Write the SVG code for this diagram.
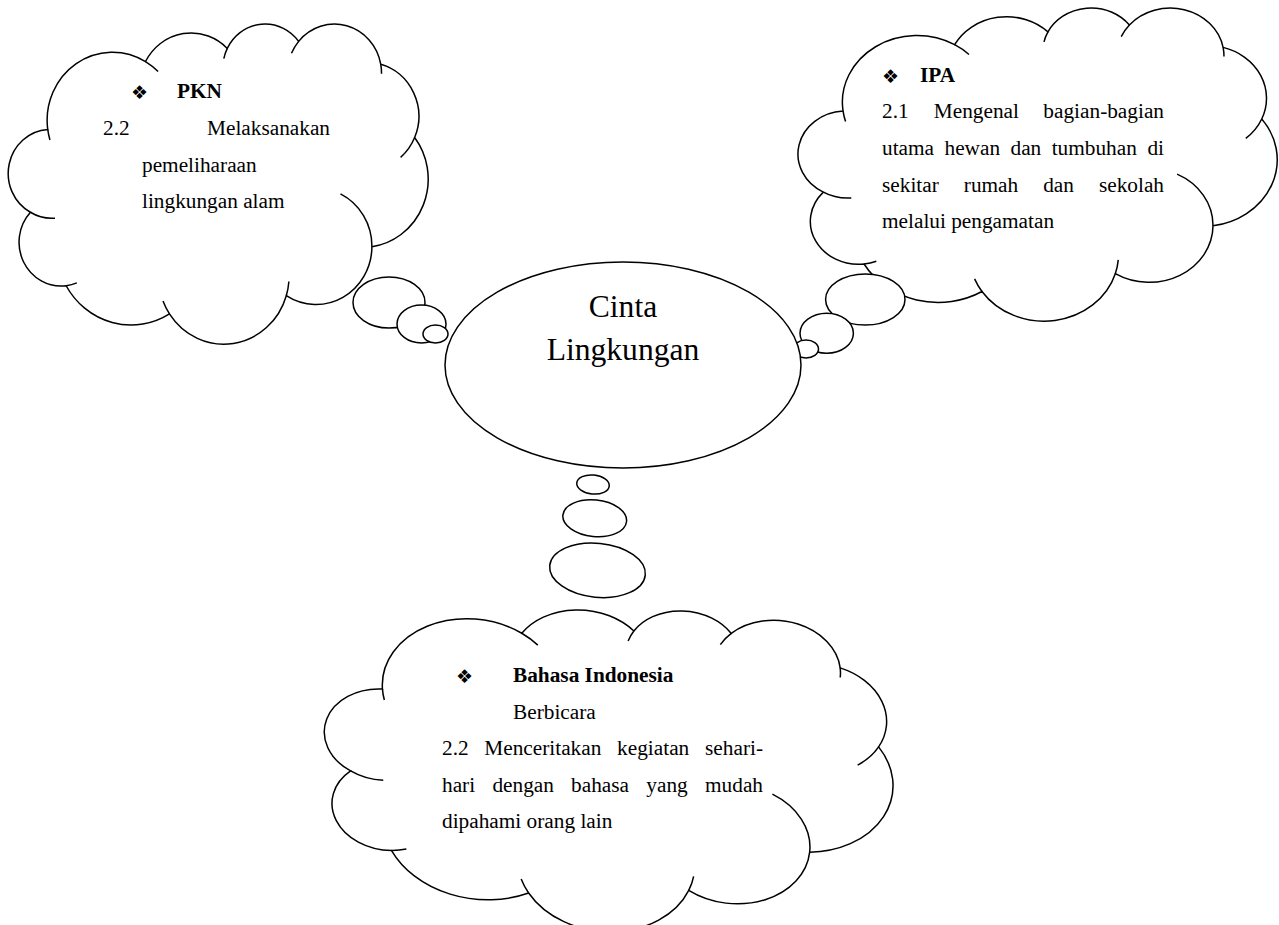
<svg xmlns="http://www.w3.org/2000/svg" xmlns:xlink="http://www.w3.org/1999/xlink" width="1279" height="925" viewBox="0 0 1279 925">
<style>
.cl{fill:#fff;stroke:#000;stroke-width:1.5}
.in{fill:none;stroke:#000;stroke-width:1.5}
.bub{fill:#fff;stroke:#000;stroke-width:1.5}
.t{font-family:"Liberation Serif","Times New Roman",serif;font-size:21.3px;fill:#000}
.b{font-weight:bold}
.dia{font-family:"DejaVu Sans",sans-serif;font-size:19px;fill:#000}
.big{font-family:"Liberation Serif","Times New Roman",serif;font-size:31.6px;fill:#000}
</style>
<defs>
<path id="cloud" class="cl" vector-effect="non-scaling-stroke" d="M3900,14370 A6753,9190 0 0 1 14004.8,5202 A5333,7267 0 0 1 22456.2,3430.2 A4365,5945 0 0 1 29833.2,2478.7 A4857,6595 0 0 1 38318.5,5573.7 A5333,7273 0 0 1 41819.1,15457.5 A6775,9220 0 0 1 37404.7,30200 A5785,7867 0 0 1 28556.2,36810.2 A6752,9215 0 0 1 16481.1,39263.3 A7720,10543 0 0 1 5804.4,35470.9 A4360,5918 0 0 1 2113.8,25548.3 A4345,5945 0 0 1 3900,14370 Z"/>
<path id="inner" class="in" vector-effect="non-scaling-stroke" d="M4648.1,26345.8 A4345,5945 0 0 1 2113.8,25548.3 M6913,35089.4 A4360,5918 0 0 1 5804.4,35470.9 M16481.1,39263.3 A6752,9215 0 0 1 15812.8,37522.5 M28822.7,34901.9 A6752,9215 0 0 1 28556.2,36810.2 M34153.3,23064.4 A5785,7867 0 0 1 37404.7,30200 M41819.1,15457.5 A5333,7273 0 0 1 40370.1,18134.5 M38318.5,5573.7 A4857,6595 0 0 1 38394.9,6837.7 M29091.3,4090.9 A4857,6595 0 0 1 29833.2,2478.7 M22097.2,4819.2 A4365,5945 0 0 1 22456.2,3430.2 M14004.8,5202 A6753,9190 0 0 1 15305.2,6551 M4126.9,15789 A6753,9190 0 0 1 3900,14370"/>
</defs>

<g id="node-pkn">
<g transform="translate(10,23) scale(0.0096759,0.0074074)">
<use href="#cloud" xlink:href="#cloud"/>
<use href="#inner" xlink:href="#inner"/>
</g>
<text class="dia" x="131" y="99">❖</text>
<text class="t b" x="177" y="98.3">PKN</text>
<text class="t" x="103" y="135">2.2</text>
<text class="t" x="330" y="135" text-anchor="end">Melaksanakan</text>
<text class="t" x="142" y="171.7">pemeliharaan</text>
<text class="t" x="142" y="208.3">lingkungan alam</text>
</g>

<g id="node-ipa">
<g transform="translate(800,7) scale(0.0110417,0.0072454)">
<use href="#cloud" xlink:href="#cloud"/>
<use href="#inner" xlink:href="#inner"/>
</g>
<text class="dia" x="882" y="82.5">❖</text>
<text class="t b" x="920" y="81.7">IPA</text>
<text class="t" y="118.3"><tspan x="882">2.1</tspan><tspan x="933.8">Mengenal</tspan><tspan x="1164" text-anchor="end">bagian-bagian</tspan></text>
<text class="t" y="155"><tspan x="882">utama</tspan><tspan x="944.5">hewan</tspan><tspan x="1010.5">dan</tspan><tspan x="1051.7">tumbuhan</tspan><tspan x="1164" text-anchor="end">di</tspan></text>
<text class="t" y="191.7"><tspan x="882">sekitar</tspan><tspan x="963.8">rumah</tspan><tspan x="1043.2">dan</tspan><tspan x="1164" text-anchor="end">sekolah</tspan></text>
<text class="t" x="882" y="228.3">melalui pengamatan</text>
</g>

<g id="node-bahasa">
<g transform="translate(609,766.7) rotate(5.7) translate(-284.5,-163.5) scale(0.0131713,0.0075694)">
<use href="#cloud" xlink:href="#cloud"/>
<use href="#inner" xlink:href="#inner"/>
</g>
<text class="dia" x="456" y="683">❖</text>
<text class="t b" x="513" y="682">Bahasa Indonesia</text>
<text class="t" x="513" y="718.5">Berbicara</text>
<text class="t" y="755"><tspan x="442">2.2</tspan><tspan x="484.3">Menceritakan</tspan><tspan x="617.1">kegiatan</tspan><tspan x="763" text-anchor="end">sehari-</tspan></text>
<text class="t" y="791.7"><tspan x="442">hari</tspan><tspan x="492.4">dengan</tspan><tspan x="571.1">bahasa</tspan><tspan x="646.3">yang</tspan><tspan x="763" text-anchor="end">mudah</tspan></text>
<text class="t" x="442" y="828.3">dipahami orang lain</text>
</g>

<g id="connectors">
<ellipse class="bub" cx="389" cy="302.5" rx="36" ry="25.5"/>
<ellipse class="bub" cx="421.5" cy="324" rx="24.5" ry="19"/>
<ellipse class="bub" cx="435.5" cy="334" rx="12.5" ry="9"/>
<ellipse class="bub" cx="865.3" cy="299.5" rx="39.7" ry="25.5"/>
<ellipse class="bub" cx="826.7" cy="333.3" rx="26.7" ry="20"/>
<ellipse class="bub" cx="806" cy="349" rx="12.5" ry="9"/>
<ellipse class="bub" cx="597.5" cy="570.3" rx="48" ry="27" transform="rotate(5.7 597.5 570.3)"/>
<ellipse class="bub" cx="594.7" cy="518.3" rx="32" ry="18.3" transform="rotate(5.7 594.7 518.3)"/>
<ellipse class="bub" cx="593" cy="484.5" rx="16.3" ry="9.5" transform="rotate(5.7 593 484.5)"/>
</g>

<g id="node-center">
<ellipse class="bub" cx="623" cy="365" rx="178" ry="103"/>
<text class="big" x="623" y="316.7" text-anchor="middle">Cinta</text>
<text class="big" x="623" y="360" text-anchor="middle">Lingkungan</text>
</g>
</svg>
